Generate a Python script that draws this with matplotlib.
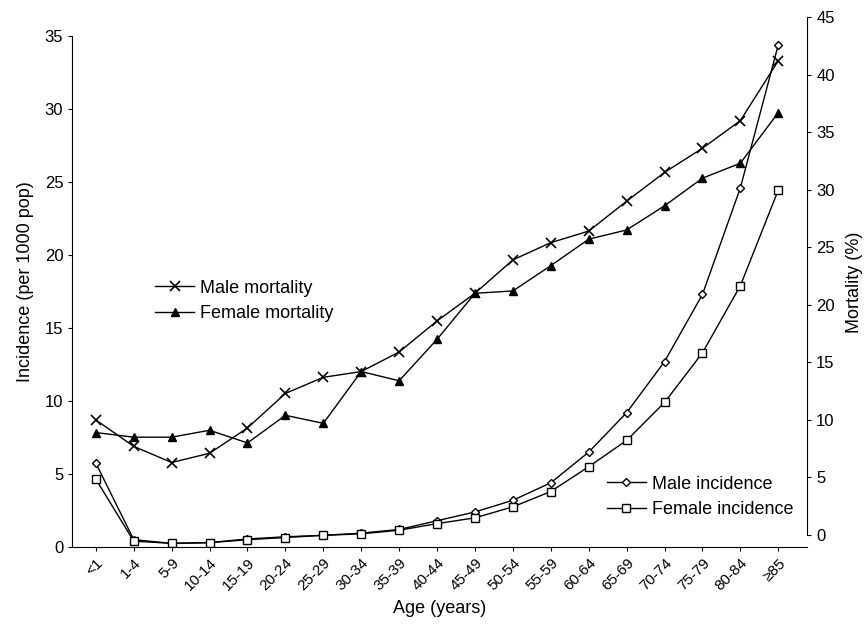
import matplotlib.pyplot as plt
from matplotlib.lines import Line2D

plt.rcParams['font.family'] = ['Liberation Sans', 'DejaVu Sans']

ages = ["<1", "1-4", "5-9", "10-14", "15-19", "20-24", "25-29", "30-34",
        "35-39", "40-44", "45-49", "50-54", "55-59", "60-64", "65-69",
        "70-74", "75-79", "80-84", "\u226585"]

# incidence, per 1000 population (left axis)
male_inc = [5.75, 0.5, 0.25, 0.3, 0.55, 0.7, 0.8, 0.95, 1.2, 1.8, 2.4, 3.2,
            4.4, 6.5, 9.2, 12.7, 17.3, 24.6, 34.4]
female_inc = [4.65, 0.4, 0.25, 0.3, 0.5, 0.65, 0.8, 0.9, 1.15, 1.6, 2.0, 2.75,
              3.8, 5.5, 7.3, 9.9, 13.3, 17.9, 24.45]

# mortality, % (right axis)
male_mort = [10.0, 7.7, 6.3, 7.1, 9.3, 12.3, 13.7, 14.2, 15.9, 18.6, 21.0,
             23.9, 25.4, 26.4, 29.0, 31.5, 33.6, 36.0, 41.2]
female_mort = [8.9, 8.5, 8.5, 9.1, 8.0, 10.4, 9.7, 14.2, 13.4, 17.0, 21.0,
               21.2, 23.4, 25.7, 26.5, 28.6, 31.0, 32.3, 36.7]

x = list(range(len(ages)))

fig = plt.figure(figsize=(8.66, 6.25), dpi=100)
ax = fig.add_axes([0.0835, 0.1248, 0.8485, 0.848])
ax2 = ax.twinx()

lw = 1.0
ax.plot(x, male_inc, color='black', lw=lw, marker='D', ms=4.5,
        mfc='white', mec='black', mew=1.0)
ax.plot(x, female_inc, color='black', lw=lw, marker='s', ms=6,
        mfc='white', mec='black', mew=1.0)
ax2.plot(x, male_mort, color='black', lw=lw, marker='x', ms=7, mew=1.2)
ax2.plot(x, female_mort, color='black', lw=lw, marker='^', ms=6,
         mfc='black', mec='black')

ax.set_xlim(-0.62, 18.76)
ax.set_ylim(0, 36.3)
ax2.set_ylim(-1.04, 45)

ax.set_yticks(range(0, 36, 5))
ax2.set_yticks(range(0, 46, 5))
ax.set_xticks(x)
ax.set_xticklabels(ages, rotation=45, ha='right', va='top',
                   rotation_mode='anchor', fontsize=11)

for a in (ax, ax2):
    a.spines['top'].set_visible(False)
    a.tick_params(axis='y', labelsize=12, length=3, width=0.8)
    a.tick_params(axis='x', length=3, width=0.8)
ax.spines['left'].set_bounds(0, 35)
ax2.spines['right'].set_bounds(0, 45)
ax.spines['right'].set_visible(False)
ax2.spines['left'].set_visible(False)
ax2.spines['bottom'].set_visible(False)

ax.set_ylabel("Incidence (per 1000 pop)", fontsize=13, labelpad=8)
ax2.set_ylabel("Mortality (%)", fontsize=13, labelpad=8)
ax.set_xlabel("Age (years)", fontsize=13, labelpad=5)

mort_handles = [
    Line2D([], [], color='black', lw=lw, marker='x', ms=7, mew=1.2),
    Line2D([], [], color='black', lw=lw, marker='^', ms=6, mfc='black'),
]
leg1 = ax2.legend(mort_handles, ["Male mortality", "Female mortality"],
                  loc='upper left', bbox_to_anchor=(0.09, 0.535),
                  frameon=False, fontsize=13, handlelength=2.2,
                  handletextpad=0.3, labelspacing=0.45)
ax2.add_artist(leg1)

inc_handles = [
    Line2D([], [], color='black', lw=lw, marker='D', ms=4.5, mfc='white'),
    Line2D([], [], color='black', lw=lw, marker='s', ms=6, mfc='white'),
]
ax2.legend(inc_handles, ["Male incidence", "Female incidence"],
           loc='upper left', bbox_to_anchor=(0.705, 0.165),
           frameon=False, fontsize=13, handlelength=2.2,
           handletextpad=0.3, labelspacing=0.45)

fig.savefig("out.png", dpi=100)
